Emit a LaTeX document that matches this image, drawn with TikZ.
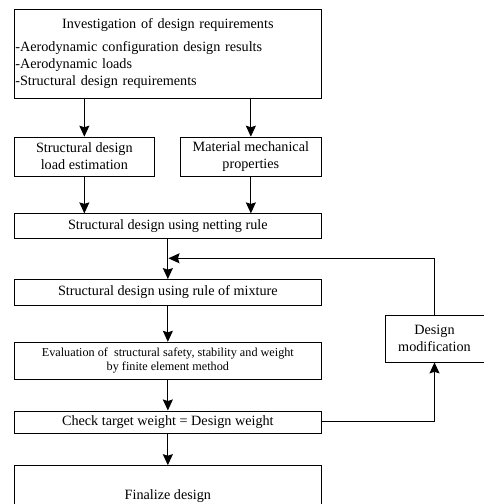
\documentclass[tikz,border=0pt]{standalone}
\usepackage{fontspec}
\setmainfont{Liberation Serif}
\usetikzlibrary{positioning, calc, arrows.meta}

\begin{document}
\begin{tikzpicture}[
  x=1pt, y=1pt,
  font=\fontsize{14.2}{17}\selectfont,
  box/.style={draw, line width=0.7pt, inner sep=0pt, align=center},
  widebox/.style={box, minimum width=307pt},
  halfbox/.style={box, minimum width=140pt, minimum height=39pt},
  arrow/.style={-{Stealth[length=11pt, width=10pt, inset=1.5pt]}, line width=1.2pt},
]
  \useasboundingbox (0,0) rectangle (483,-504);

  % Requirements
  \node (req) [widebox, minimum height=89pt, text width=305pt, align=left, anchor=north west, inner sep=1pt] at (14,-9)
    {{\centering Investigation of design requirements\par}\vspace{6pt}
     -Aerodynamic configuration design results\\
     -Aerodynamic loads\\
     -Structural design requirements};

  % Two branches
  \node (load) [halfbox, below right=38pt and 0pt of req.south west] {Structural design\\load estimation};
  \node (matl) [halfbox, minimum width=141pt, below left=38pt and 0pt of req.south east] {Material mechanical\\properties};

  % Main column
  \node (net) [widebox, minimum height=25pt, anchor=north, yshift=-37pt] at (req.south |- load.south) {Structural design using netting rule};
  \node (mix) [widebox, minimum height=26pt, below=40pt of net] {Structural design using rule of mixture};
  \node (eval) [widebox, minimum height=37pt, below=36pt of mix, font=\fontsize{12.2}{14}\selectfont] {Evaluation of \ structural safety, stability and weight\\by finite element method};
  \node (check) [widebox, minimum height=22pt, below=31pt of eval] {Check target weight = Design weight};
  \node (fin) [widebox, minimum height=62pt, below=32pt of check] {Finalize design};

  % Loop box
  \node (mod) [box, minimum width=99pt, minimum height=47pt] at (434.5,-338.5) {Design\\modification};

  \coordinate (join) at ($(net.south)!0.48!(mix.north)$);

  % Connections
  \draw [arrow] (req.south -| load.north) -- (load.north);
  \draw [arrow] (req.south -| matl.north) -- (matl.north);
  \draw [arrow] (load.south) -- (load.south |- net.north);
  \draw [arrow] (matl.south) -- (matl.south |- net.north);
  \draw [arrow] (net.south) -- (mix.north);
  \draw [arrow] (mix.south) -- (eval.north);
  \draw [arrow] (eval.south) -- (check.north);
  \draw [arrow] (check.south) -- (fin.north);
  \draw [arrow] (check.east) -| (mod.south);
  \draw [arrow] (mod.north) |- ([xshift=0.6pt]join);

\end{tikzpicture}
\end{document}
